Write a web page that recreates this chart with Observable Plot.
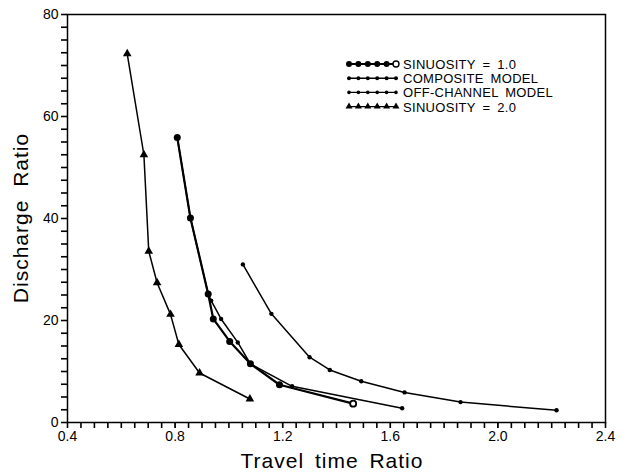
<!DOCTYPE html>
<html><head><meta charset="utf-8">
<script src="https://cdn.jsdelivr.net/npm/d3@7"></script>
<script src="https://cdn.jsdelivr.net/npm/@observablehq/plot@0.6"></script>
<style>body{margin:0;background:#fff;} svg{display:block;background:#fff}</style>
</head><body><div id="chart"></div>
<script>
// Series names (legend order)
const seriesNames = ["SINUOSITY = 1.0", "COMPOSITE MODEL", "OFF-CHANNEL MODEL", "SINUOSITY = 2.0"];

// Travel time ratio (x) and discharge ratio (y) per series
const sin1X = [0.808, 0.857, 0.923, 0.942, 1.003, 1.080, 1.188, 1.462];
const sin1Y = [55.9, 40.1, 25.2, 20.3, 15.9, 11.5, 7.4, 3.7];

const compX = [0.808, 0.857, 0.923, 0.934, 0.971, 1.033, 1.080, 1.235, 1.644];
const compY = [55.9, 40.1, 25.2, 23.9, 20.3, 15.7, 11.5, 7.1, 2.8];

const offX = [1.052, 1.158, 1.300, 1.375, 1.492, 1.653, 1.861, 2.218];
const offY = [31.0, 21.3, 12.8, 10.3, 8.1, 5.9, 4.0, 2.4];

const sin2X = [0.622, 0.684, 0.702, 0.733, 0.783, 0.814, 0.891, 1.078];
const sin2Y = [72.3, 52.5, 33.6, 27.4, 21.2, 15.3, 9.7, 4.6];

// Axis ticks
const xMajor = [0.4, 0.8, 1.2, 1.6, 2.0, 2.4];
const yMajor = [0, 20, 40, 60, 80];
const xMinor = d3.range(0, 41).map(i => +(0.4 + i * 0.05).toFixed(2));
const yMinor = d3.range(0, 33).map(i => i * 2.5);

const toRows = (name, xs, ys) => xs.map((x, i) => ({series: name, x, y: ys[i], last: i === xs.length - 1}));
const sin1 = toRows(seriesNames[0], sin1X, sin1Y);
const comp = toRows(seriesNames[1], compX, compY);
const off = toRows(seriesNames[2], offX, offY);
const sin2 = toRows(seriesNames[3], sin2X, sin2Y);

const font = "Liberation Sans, Arial, sans-serif";

const chart = Plot.plot({
  width: 626,
  height: 473,
  marginLeft: 67,
  marginRight: 21,
  marginTop: 14,
  marginBottom: 51,
  x: {domain: [0.4, 2.4]},
  y: {domain: [0, 80]},
  marks: [
    Plot.axisX(xMinor, {tickSize: 6, stroke: "black", strokeWidth: 1.6, tickFormat: () => "", label: null}),
    Plot.axisY(yMinor, {tickSize: 6, stroke: "black", strokeWidth: 1.6, tickFormat: () => "", label: null}),
    Plot.axisX(xMajor, {tickSize: 6, tickPadding: 3, tickFormat: d3.format(".1f"), label: null, fontSize: 14, fontFamily: font}),
    Plot.axisY(yMajor, {tickSize: 6, tickPadding: 3, tickFormat: d3.format("d"), label: null, fontSize: 14, fontFamily: font}),
    Plot.frame({stroke: "#000", strokeWidth: 1.5}),
    Plot.line(comp, {x: "x", y: "y", stroke: "#000", strokeWidth: 1.5}),
    Plot.line(off, {x: "x", y: "y", stroke: "#000", strokeWidth: 1.5}),
    Plot.line(sin2, {x: "x", y: "y", stroke: "#000", strokeWidth: 1.5}),
    Plot.line(sin1, {x: "x", y: "y", stroke: "#000", strokeWidth: 2.2}),
    Plot.dot(comp, {x: "x", y: "y", r: 2.2, fill: "#000"}),
    Plot.dot(off, {x: "x", y: "y", r: 2.2, fill: "#000"}),
    Plot.dot(sin2, {x: "x", y: "y", r: 3.2, symbol: "triangle", fill: "#000"}),
    Plot.dot(sin1.filter(d => !d.last), {x: "x", y: "y", r: 3.5, fill: "#000"}),
    Plot.dot(sin1.filter(d => d.last), {x: "x", y: "y", r: 3, fill: "#fff", stroke: "#000", strokeWidth: 1.8})
  ]
});
document.getElementById("chart").appendChild(chart);

const svg = d3.select(chart);

// Axis titles
svg.append("text")
  .attr("x", 332).attr("y", 468)
  .attr("text-anchor", "middle")
  .style("font-family", font).style("font-size", "21px")
  .style("letter-spacing", "1px").style("word-spacing", "4px")
  .text("Travel time Ratio");
svg.append("text")
  .attr("transform", "translate(28,218) rotate(-90)")
  .attr("text-anchor", "middle")
  .style("font-family", font).style("font-size", "21px")
  .style("letter-spacing", "1px").style("word-spacing", "6px")
  .text("Discharge Ratio");

// Legend
const legendStyles = [
  {r: 3, sym: "circle", sw: 2.2, open: true},
  {r: 2, sym: "circle", sw: 1.5},
  {r: 1.8, sym: "circle", sw: 1.3},
  {r: 2.6, sym: "triangle", sw: 1.3}
];
const lg = svg.append("g");
seriesNames.forEach((name, i) => {
  const yy = 64 + i * 14.2;
  const st = legendStyles[i];
  const g = lg.append("g");
  g.append("line").attr("x1", 349).attr("x2", 396).attr("y1", yy).attr("y2", yy)
    .attr("stroke", "#000").attr("stroke-width", st.sw);
  d3.range(6).forEach(k => {
    const cx = 349 + k * 9.4;
    const isOpen = st.open && k === 5;
    const symbol = st.sym === "triangle" ? d3.symbolTriangle : d3.symbolCircle;
    g.append("path")
      .attr("d", d3.symbol(symbol, Math.PI * st.r * st.r)())
      .attr("transform", `translate(${cx},${yy})`)
      .attr("fill", isOpen ? "#fff" : "#000")
      .attr("stroke", isOpen ? "#000" : "none")
      .attr("stroke-width", 1.4);
  });
  g.append("text").attr("x", 403).attr("y", yy + 5)
    .attr("text-anchor", "start")
    .style("font-family", font).style("font-size", "13px")
    .style("letter-spacing", "0.3px").style("word-spacing", "3px")
    .text(name);
});
</script>
</body></html>
